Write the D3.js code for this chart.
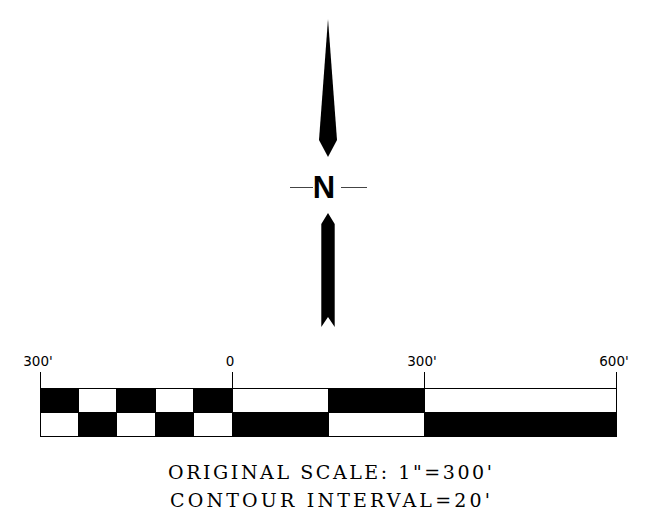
<!DOCTYPE html>
<html>
<head>
<meta charset="utf-8">
<script src="https://cdn.jsdelivr.net/npm/d3@7"></script>
<style>
  body { margin: 0; background: #fff; }
  svg { display: block; }
</style>
</head>
<body>
<svg id="chart" width="652" height="529"></svg>
<script>
(() => {
    // scale bar breaks (feet), tick values and their labels
    const breaks = [-300, -240, -180, -120, -60, 0, 150, 300, 600];
    const tickValues = [-300, 0, 300, 600];
    const tickLabels = ["300'", "0", "300'", "600'"];
    const rows = ["top", "bottom"];
    const notes = ["ORIGINAL SCALE:  1\"=300'", "CONTOUR  INTERVAL=20'"];

    const svg = d3.select("svg#chart");

    const x = d3.scaleLinear()
        .domain([-300, 600])
        .range([40, 616]);

    const y = d3.scaleBand()
        .domain(rows)
        .range([388, 436]);

    // segments from consecutive breaks
    const segs = d3.pairs(breaks).map(([a, b], i) => ({a, b, i}));
    const cells = [];
    rows.forEach((r, ri) => segs.forEach(s => cells.push({...s, row: r, black: (s.i + ri) % 2 === 0})));

    const bar = svg.append("g").attr("shape-rendering", "crispEdges");

    bar.selectAll("rect")
        .data(cells)
        .enter()
        .append("rect")
        .attr("x", d => x(d.a))
        .attr("y", d => y(d.row))
        .attr("width", d => x(d.b) - x(d.a))
        .attr("height", y.bandwidth())
        .attr("fill", d => d.black ? "#000" : "#fff")
        .attr("stroke", "#000")
        .attr("stroke-width", 1);

    // ticks above the bar
    bar.selectAll("line")
        .data(tickValues)
        .enter()
        .append("line")
        .attr("x1", d => x(d))
        .attr("x2", d => x(d))
        .attr("y1", 372)
        .attr("y2", y("top"))
        .attr("stroke", "#000")
        .attr("stroke-width", 1);

    svg.append("g")
        .selectAll("text")
        .data(tickValues)
        .enter()
        .append("text")
        .attr("x", d => x(d) - 2)
        .attr("y", 366)
        .attr("text-anchor", "middle")
        .attr("font-family", "DejaVu Sans, sans-serif")
        .attr("font-size", 13.5)
        .text((d, i) => tickLabels[i]);

    // notes under the bar
    const noteWidths = [324, 320];
    svg.append("g")
        .selectAll("text")
        .data(notes)
        .enter()
        .append("text")
        .attr("x", (d, i) => 330 - noteWidths[i] / 2)
        .attr("y", (d, i) => 479 + i * 28)
        .attr("font-family", "DejaVu Serif, serif")
        .attr("font-size", 19)
        .attr("textLength", (d, i) => noteWidths[i])
        .attr("lengthAdjust", "spacing")
        .text(d => d);

    // north arrow
    const cx = 328;
    const topArrow = [[0, 19], [9, 140], [0, 157], [-9, 140]];
    const tail = [[0, 213], [6.7, 224], [6.7, 327], [0, 317], [-6.7, 327], [-6.7, 224]];
    const line = d3.line().x(p => cx + p[0]).y(p => p[1]);

    const north = svg.append("g");
    north.selectAll("path")
        .data([topArrow, tail])
        .enter()
        .append("path")
        .attr("d", d => line(d) + "Z")
        .attr("fill", "#000");

    north.selectAll("line")
        .data([[290, 313], [341, 367]])
        .enter()
        .append("line")
        .attr("x1", d => d[0])
        .attr("x2", d => d[1])
        .attr("y1", 187.5)
        .attr("y2", 187.5)
        .attr("stroke", "#444")
        .attr("stroke-width", 1);

    north.append("text")
        .attr("x", 324)
        .attr("y", 198)
        .attr("text-anchor", "middle")
        .attr("font-family", "Liberation Sans, Arial, sans-serif")
        .attr("font-weight", "bold")
        .attr("font-size", 31)
        .text("N");
})();
</script>
</body>
</html>
